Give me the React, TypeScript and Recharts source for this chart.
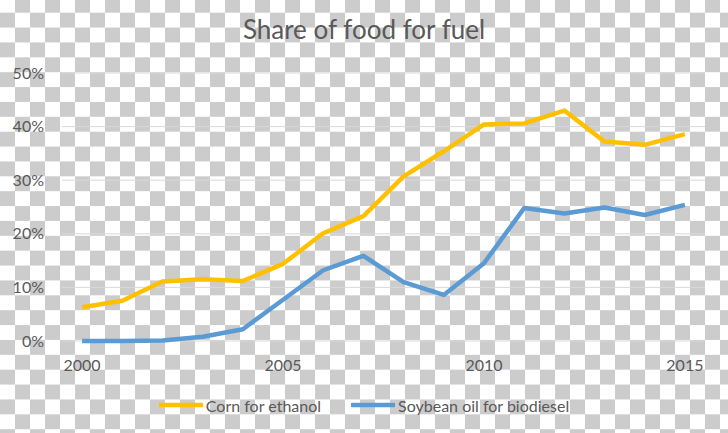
import { LineChart, Line, XAxis, YAxis, CartesianGrid, Legend } from 'recharts';

const YEARS = [2000, 2001, 2002, 2003, 2004, 2005, 2006, 2007, 2008, 2009, 2010, 2011, 2012, 2013, 2014, 2015];
// share of crop used for fuel, in percent
const CORN = [6.3, 7.5, 11.1, 11.5, 11.2, 14.4, 20.1, 23.3, 30.7, 35.4, 40.4, 40.6, 43.0, 37.2, 36.6, 38.6];
const SOY = [0, 0, 0.1, 0.8, 2.2, 7.7, 13.2, 15.9, 11.0, 8.6, 14.5, 24.8, 23.8, 24.9, 23.5, 25.4];
const Y_TICKS = [0, 10, 20, 30, 40, 50];
const X_TICKS = [2000, 2005, 2010, 2015];

const SERIES = [
  { key: 'corn', name: 'Corn for ethanol', color: '#FFC000' },
  { key: 'soy', name: 'Soybean oil for biodiesel', color: '#5B9BD5' },
];

const FONT = 'Lato, "Noto Sans", sans-serif';
const TEXT = '#595959';

const data = YEARS.map((year, i) => ({ year, corn: CORN[i], soy: SOY[i] }));

function LegendContent() {
  return (
    <div style={{ display: 'flex', justifyContent: 'center', alignItems: 'center', height: 20, fontFamily: FONT, fontSize: 16, color: TEXT }}>
      {SERIES.map((s, i) => (
        <div key={s.key} style={{ display: 'flex', alignItems: 'center', marginLeft: i ? 30 : 0 }}>
          <svg width={44} height={6} style={{ marginRight: 3 }}>
            <line x1={1} y1={3} x2={43} y2={3} stroke={s.color} strokeWidth={4.5} strokeLinecap="round" />
          </svg>
          <span>{s.name}</span>
        </div>
      ))}
    </div>
  );
}

export default function App() {
  return (
    <div
      style={{
        position: 'absolute', left: 0, top: 0, width: 728, height: 433,
        background: 'repeating-conic-gradient(#cccccc 0% 25%, #ffffff 0% 50%) 0 -2.2px / 30px 29.76px',
      }}
    >
      <div style={{ position: 'absolute', top: 16, left: 0, width: 728, textAlign: 'center', fontFamily: FONT, fontSize: 26, lineHeight: '26px', color: TEXT }}>
        Share of food for fuel
      </div>
      <LineChart width={728} height={433} data={data} margin={{ top: 73, right: 23, bottom: 42, left: 0 }}>
        <CartesianGrid vertical={false} stroke="#d9d9d9" />
        <XAxis
          dataKey="year"
          type="number"
          domain={[1999.5, 2015.5]}
          ticks={X_TICKS}
          axisLine={false}
          tickLine={false}
          tickMargin={13}
          height={30}
          tick={{ fill: TEXT, fontSize: 16, fontFamily: FONT }}
        />
        <YAxis
          domain={[0, 50]}
          ticks={Y_TICKS}
          width={62}
          axisLine={false}
          tickLine={false}
          tickMargin={12}
          tickFormatter={(v: number) => `${v}%`}
          tick={{ fill: TEXT, fontSize: 16, fontFamily: FONT }}
        />
        <Legend content={LegendContent} wrapperStyle={{ top: 395, left: 0, width: 728 }} />
        {SERIES.map(s => (
          <Line
            key={s.key}
            dataKey={s.key}
            name={s.name}
            stroke={s.color}
            strokeWidth={4.5}
            strokeLinejoin="round"
            dot={false}
            type="linear"
            isAnimationActive={false}
          />
        ))}
      </LineChart>
    </div>
  );
}
